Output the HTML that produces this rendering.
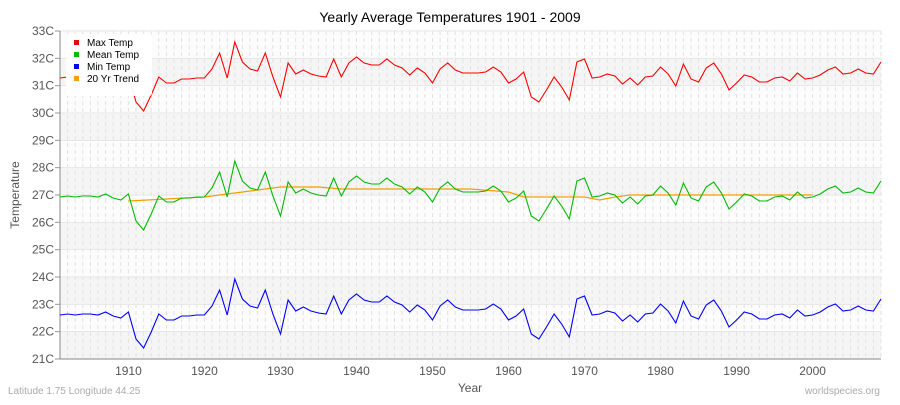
<!DOCTYPE html>
<html><head><meta charset="utf-8"><style>
body{margin:0;background:#fff;font-family:"Liberation Sans",sans-serif}
</style></head><body>
<svg id="c" width="900" height="400" xmlns="http://www.w3.org/2000/svg" font-family="Liberation Sans, sans-serif"></svg>
<script>
const s=document.getElementById('c');
const L=60,R=881,T=31,B=359;
const X=y=>L+(y-1901)*(R-L)/108;
const Y=v=>B-(v-21)*(B-T)/12;
let h='<rect width="900" height="400" fill="#fff"/>';
for(let i=0;i<12;i++){h+=`<rect x="${L}" y="${Y(22+i)}" width="${R-L}" height="${(B-T)/12}" fill="${i%2==0?'#f5f5f5':'#fcfcfc'}"/>`;}
for(let yr=1902;yr<=2009;yr++){h+=`<line x1="${X(yr)}" x2="${X(yr)}" y1="${T}" y2="${B}" stroke="#e2e2e2" stroke-dasharray="4,3"/>`;}
for(let i=0;i<=12;i++){h+=`<line x1="${L}" x2="${R}" y1="${Y(21+i)}" y2="${Y(21+i)}" stroke="#e6e6e6"/>`;
h+=`<line x1="${L-5}" x2="${L}" y1="${Y(21+i)}" y2="${Y(21+i)}" stroke="#999"/>`;
h+=`<text x="${L-6}" y="${Y(21+i)+4}" text-anchor="end" font-size="12" fill="#555">${21+i}C</text>`;}
for(let yr=1910;yr<=2000;yr+=10){h+=`<text x="${X(yr)}" y="375" text-anchor="middle" font-size="12" fill="#555">${yr}</text>`;}
h+=`<line x1="${L}" x2="${L}" y1="${T}" y2="${B}" stroke="#888"/><line x1="${L}" x2="${R}" y1="${B}" y2="${B}" stroke="#888"/>`;
const mx=[78,77,78,77,77,78,75,79,81,75,102,111,95,77,83,83,79,79,78,78,69,53,78,42,62,69,71,53,77,97,63,74,70,74,76,77,59,77,63,57,63,65,65,59,65,68,75,68,73,83,69,63,70,73,73,73,72,67,72,83,79,72,97,102,90,77,87,100,62,59,78,77,74,76,84,78,85,77,76,67,74,86,64,79,82,68,63,74,90,83,75,77,82,82,78,77,81,73,79,78,75,70,67,74,73,69,73,74,62];
function line(off,col){let p=mx.map((v,i)=>`${X(1901+i).toFixed(1)},${v+off}`).join(' ');return `<polyline points="${p}" fill="none" stroke="${col}" stroke-width="1.1"/>`;}
const tr=[[1910,201],[1915,199],[1920,197],[1925,192],[1930,187],[1935,187],[1938,189],[1945,189],[1955,189],[1960,192],[1962,197],[1970,197],[1972,200],[1974,197],[1976,195],[1990,195],[2000,195]];
h+=`<polyline points="${tr.map(a=>X(a[0])+','+a[1]).join(' ')}" fill="none" stroke="#f5a000" stroke-width="1.3"/>`;
h+=line(0,'#f00')+line(119,'#0b0')+line(237,'#00f');
h+=`<rect x="66" y="34" width="86" height="62" rx="3" fill="#fff" opacity="0.95"/>`;
[['Max Temp','#e00'],['Mean Temp','#0b0'],['Min Temp','#00e'],['20 Yr Trend','#f5a000']].forEach((a,i)=>{h+=`<rect x="74" y="${40+i*12}" width="5" height="5" fill="${a[1]}"/><text x="87" y="${46+i*12}" font-size="10" fill="#000">${a[0]}</text>`;});
h+=`<text x="450" y="22" text-anchor="middle" font-size="14" fill="#000">Yearly Average Temperatures 1901 - 2009</text>`;
h+=`<text x="470" y="392" text-anchor="middle" font-size="12" fill="#555">Year</text>`;
h+=`<text x="19" y="195" text-anchor="middle" font-size="12" fill="#555" transform="rotate(-90 19 195)">Temperature</text>`;
h+=`<text x="8" y="394" font-size="10" fill="#aaa">Latitude 1.75 Longitude 44.25</text>`;
h+=`<text x="880" y="394" text-anchor="end" font-size="10" fill="#aaa">worldspecies.org</text>`;
s.innerHTML=h;
</script>
</body></html>
